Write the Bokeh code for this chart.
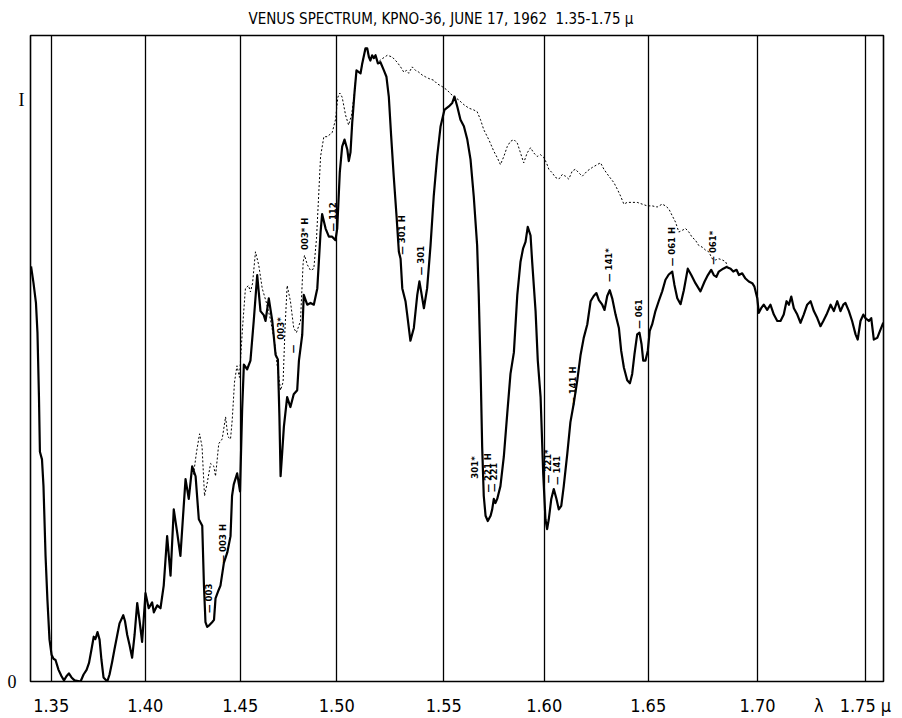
import numpy as np
from bokeh.plotting import figure
from bokeh.models import Range1d, FixedTicker
from bokeh.core.properties import value
from bokeh.embed import file_html
from bokeh.resources import INLINE

# Wavelength scale of the recorder chart (microns) and where each mark falls along the chart
SCALE_MARKS = [1.35, 1.40, 1.45, 1.50, 1.55, 1.60, 1.65, 1.70, 1.75]
SCALE_LABELS = ["1.35", "1.40", "1.45", "1.50", "1.55", "1.60", "1.65", "1.70",
                "λ\u2002\u20021.75\u00a0μ\u2009\u2002"]
SCALE_POS = [0.0, 94.1, 189.0, 285.6, 392.6, 493.0, 597.0, 706.3, 813.8]
CHART_WL_START = 1.339
CHART_WL_END = 1.7586

# Intensity scale marks
LEVEL_MARKS = [0.0, 1.0]
LEVEL_LABELS = ["0\u00a0\u2009", "I"]

TITLE = "VENUS SPECTRUM, KPNO-36, JUNE 17, 1962\u00a0\u00a01.35-1.75 μ"

# Venus spectrum (solid trace): wavelength (microns) and relative intensity
SOLID_WL = [
    1.3393, 1.3406, 1.3419, 1.3427, 1.3435, 1.3440, 1.3451, 1.3459, 1.3470, 1.3480,
    1.3491, 1.3502, 1.3512, 1.3523, 1.3539, 1.3555, 1.3568, 1.3581, 1.3594, 1.3608,
    1.3624, 1.3656, 1.3672, 1.3688, 1.3701, 1.3714, 1.3726, 1.3735, 1.3746, 1.3757,
    1.3767, 1.3778, 1.3798, 1.3810, 1.3824, 1.3836, 1.3851, 1.3863, 1.3883, 1.3892,
    1.3904, 1.3916, 1.3930, 1.3943, 1.3957, 1.3969, 1.3983, 1.3993, 1.4001, 1.4018,
    1.4036, 1.4045, 1.4063, 1.4080, 1.4097, 1.4115, 1.4133, 1.4150, 1.4168, 1.4185,
    1.4199, 1.4212, 1.4229, 1.4247, 1.4265, 1.4282, 1.4300, 1.4309, 1.4317, 1.4326,
    1.4338, 1.4352, 1.4362, 1.4370, 1.4386, 1.4396, 1.4414, 1.4432, 1.4449, 1.4457,
    1.4466, 1.4484, 1.4499, 1.4510, 1.4519, 1.4536, 1.4553, 1.4570, 1.4588, 1.4605,
    1.4622, 1.4631, 1.4648, 1.4666, 1.4683, 1.4695, 1.4703, 1.4709, 1.4716, 1.4726,
    1.4743, 1.4760, 1.4777, 1.4795, 1.4804, 1.4821, 1.4829, 1.4847, 1.4864, 1.4881,
    1.4899, 1.4916, 1.4924, 1.4942, 1.4959, 1.4976, 1.4993, 1.5002, 1.5014, 1.5025,
    1.5036, 1.5049, 1.5056, 1.5064, 1.5072, 1.5083, 1.5092, 1.5103, 1.5111, 1.5119,
    1.5134, 1.5142, 1.5150, 1.5157, 1.5165, 1.5173, 1.5181, 1.5192, 1.5204, 1.5220,
    1.5232, 1.5243, 1.5254, 1.5266, 1.5279, 1.5290, 1.5298, 1.5306, 1.5321, 1.5329,
    1.5344, 1.5360, 1.5376, 1.5386, 1.5394, 1.5407, 1.5422, 1.5438, 1.5453, 1.5469,
    1.5485, 1.5503, 1.5525, 1.5542, 1.5553, 1.5567, 1.5583, 1.5600, 1.5617, 1.5633,
    1.5649, 1.5666, 1.5674, 1.5683, 1.5691, 1.5699, 1.5708, 1.5719, 1.5733, 1.5741,
    1.5749, 1.5757, 1.5766, 1.5782, 1.5799, 1.5816, 1.5832, 1.5849, 1.5866, 1.5882,
    1.5895, 1.5907, 1.5918, 1.5932, 1.5940, 1.5957, 1.5968, 1.5982, 1.5995, 1.6006,
    1.6014, 1.6022, 1.6034, 1.6046, 1.6059, 1.6070, 1.6082, 1.6094, 1.6111, 1.6126,
    1.6142, 1.6159, 1.6175, 1.6190, 1.6207, 1.6223, 1.6238, 1.6251, 1.6263, 1.6279,
    1.6290, 1.6303, 1.6315, 1.6327, 1.6343, 1.6359, 1.6370, 1.6383, 1.6399, 1.6412,
    1.6423, 1.6434, 1.6447, 1.6458, 1.6468, 1.6476, 1.6487, 1.6498, 1.6507, 1.6518,
    1.6533, 1.6548, 1.6564, 1.6579, 1.6594, 1.6610, 1.6620, 1.6633, 1.6648, 1.6663,
    1.6681, 1.6697, 1.6716, 1.6739, 1.6758, 1.6773, 1.6788, 1.6800, 1.6812, 1.6823,
    1.6843, 1.6858, 1.6877, 1.6889, 1.6904, 1.6915, 1.6930, 1.6945, 1.6960, 1.6976,
    1.6986, 1.6999, 1.7006, 1.7017, 1.7029, 1.7045, 1.7060, 1.7076, 1.7092, 1.7107,
    1.7122, 1.7135, 1.7146, 1.7157, 1.7169, 1.7185, 1.7200, 1.7215, 1.7231, 1.7247,
    1.7262, 1.7278, 1.7293, 1.7306, 1.7321, 1.7340, 1.7355, 1.7371, 1.7386, 1.7399,
    1.7409, 1.7425, 1.7440, 1.7456, 1.7466, 1.7479, 1.7492, 1.7502, 1.7518, 1.7529,
    1.7541, 1.7557, 1.7572, 1.7585,
]
SOLID_I = [
    0.714, 0.685, 0.651, 0.600, 0.489, 0.395, 0.382, 0.336, 0.216, 0.140,
    0.072, 0.046, 0.039, 0.037, 0.020, 0.009, 0.002, 0.009, 0.014, 0.007,
    0.002, 0.000, 0.012, 0.020, 0.032, 0.055, 0.077, 0.073, 0.085, 0.072,
    0.037, 0.007, 0.000, 0.012, 0.034, 0.055, 0.080, 0.100, 0.114, 0.104,
    0.080, 0.063, 0.041, 0.080, 0.135, 0.106, 0.068, 0.114, 0.152, 0.126,
    0.136, 0.119, 0.131, 0.126, 0.165, 0.250, 0.182, 0.296, 0.256, 0.216,
    0.285, 0.348, 0.314, 0.370, 0.353, 0.279, 0.268, 0.165, 0.102, 0.094,
    0.097, 0.102, 0.106, 0.143, 0.157, 0.165, 0.204, 0.222, 0.250, 0.319,
    0.339, 0.358, 0.327, 0.467, 0.545, 0.537, 0.552, 0.620, 0.699, 0.637,
    0.630, 0.620, 0.659, 0.620, 0.562, 0.554, 0.455, 0.353, 0.387, 0.438,
    0.489, 0.472, 0.494, 0.501, 0.552, 0.596, 0.665, 0.648, 0.651, 0.648,
    0.676, 0.773, 0.804, 0.779, 0.765, 0.765, 0.759, 0.779, 0.876, 0.920,
    0.932, 0.915, 0.895, 0.910, 0.961, 1.014, 1.051, 1.048, 1.046, 1.063,
    1.089, 1.089, 1.074, 1.068, 1.077, 1.072, 1.077, 1.063, 1.065, 1.051,
    1.040, 1.006, 0.938, 0.869, 0.801, 0.739, 0.727, 0.676, 0.654, 0.631,
    0.586, 0.608, 0.665, 0.688, 0.671, 0.642, 0.676, 0.750, 0.835, 0.903,
    0.955, 0.983, 0.989, 0.995, 1.006, 0.989, 0.966, 0.955, 0.932, 0.898,
    0.835, 0.750, 0.665, 0.540, 0.404, 0.319, 0.285, 0.276, 0.285, 0.296,
    0.314, 0.307, 0.314, 0.336, 0.387, 0.461, 0.529, 0.566, 0.665, 0.722,
    0.745, 0.756, 0.782, 0.767, 0.722, 0.637, 0.552, 0.489, 0.358, 0.279,
    0.262, 0.279, 0.314, 0.331, 0.314, 0.296, 0.302, 0.336, 0.392, 0.446,
    0.478, 0.518, 0.562, 0.591, 0.614, 0.654, 0.663, 0.668, 0.656, 0.648,
    0.639, 0.663, 0.673, 0.659, 0.631, 0.608, 0.569, 0.540, 0.518, 0.513,
    0.529, 0.563, 0.597, 0.600, 0.580, 0.552, 0.552, 0.569, 0.603, 0.614,
    0.637, 0.654, 0.671, 0.691, 0.700, 0.705, 0.682, 0.659, 0.649, 0.673,
    0.710, 0.699, 0.685, 0.671, 0.688, 0.699, 0.708, 0.699, 0.696, 0.705,
    0.710, 0.713, 0.710, 0.705, 0.708, 0.699, 0.702, 0.693, 0.688, 0.685,
    0.679, 0.659, 0.634, 0.642, 0.648, 0.639, 0.648, 0.631, 0.620, 0.620,
    0.631, 0.654, 0.648, 0.662, 0.642, 0.631, 0.617, 0.631, 0.648, 0.654,
    0.637, 0.625, 0.611, 0.620, 0.631, 0.648, 0.637, 0.654, 0.637, 0.648,
    0.651, 0.637, 0.620, 0.597, 0.588, 0.620, 0.631, 0.625, 0.620, 0.625,
    0.588, 0.591, 0.605, 0.617,
]

# Comparison trace (dotted): wavelength (microns) and relative intensity
DOTTED_WL = [
    1.4254, 1.4270, 1.4286, 1.4299, 1.4312, 1.4326, 1.4344, 1.4361, 1.4370, 1.4387,
    1.4405, 1.4423, 1.4435, 1.4449, 1.4458, 1.4470, 1.4483, 1.4496, 1.4512, 1.4527,
    1.4543, 1.4553, 1.4564, 1.4579, 1.4596, 1.4614, 1.4636, 1.4657, 1.4678, 1.4693,
    1.4709, 1.4722, 1.4732, 1.4743, 1.4760, 1.4777, 1.4791, 1.4812, 1.4826, 1.4833,
    1.4847, 1.4864, 1.4881, 1.4895, 1.4907, 1.4916, 1.4933, 1.4950, 1.4976, 1.4993,
    1.5005, 1.5014, 1.5025, 1.5041, 1.5055, 1.5069, 1.5083, 1.5092, 1.5103, 1.5111,
    1.5119, 1.5134, 1.5142, 1.5150, 1.5157, 1.5165, 1.5173, 1.5181, 1.5192, 1.5212,
    1.5236, 1.5259, 1.5282, 1.5298, 1.5313, 1.5326, 1.5336, 1.5352, 1.5368, 1.5383,
    1.5399, 1.5414, 1.5430, 1.5453, 1.5469, 1.5493, 1.5517, 1.5533, 1.5550, 1.5575,
    1.5600, 1.5625, 1.5649, 1.5666, 1.5683, 1.5699, 1.5724, 1.5749, 1.5766, 1.5782,
    1.5799, 1.5816, 1.5832, 1.5849, 1.5866, 1.5882, 1.5898, 1.5915, 1.5932, 1.5948,
    1.5965, 1.5982, 1.5998, 1.6011, 1.6022, 1.6038, 1.6054, 1.6070, 1.6087, 1.6102,
    1.6118, 1.6135, 1.6150, 1.6166, 1.6183, 1.6207, 1.6231, 1.6255, 1.6271, 1.6287,
    1.6311, 1.6335, 1.6351, 1.6367, 1.6383, 1.6399, 1.6423, 1.6447, 1.6471, 1.6495,
    1.6518, 1.6541, 1.6564, 1.6579, 1.6594, 1.6610, 1.6625, 1.6640, 1.6656, 1.6671,
    1.6686, 1.6701, 1.6716, 1.6731, 1.6747, 1.6762, 1.6777, 1.6793, 1.6808, 1.6823,
    1.6839, 1.6854, 1.6863,
]
DOTTED_I = [
    0.356, 0.395, 0.426, 0.404, 0.319, 0.341, 0.375, 0.370, 0.353, 0.409,
    0.417, 0.455, 0.421, 0.417, 0.450, 0.515, 0.543, 0.523, 0.608, 0.676,
    0.681, 0.670, 0.685, 0.739, 0.716, 0.676, 0.651, 0.622, 0.583, 0.540,
    0.501, 0.515, 0.608, 0.681, 0.654, 0.608, 0.600, 0.620, 0.722, 0.733,
    0.717, 0.707, 0.710, 0.762, 0.842, 0.903, 0.937, 0.937, 0.944, 0.966,
    1.005, 1.012, 1.005, 0.974, 0.957, 0.974, 1.014, 1.051, 1.048, 1.046,
    1.063, 1.089, 1.089, 1.074, 1.068, 1.077, 1.072, 1.077, 1.065, 1.071,
    1.077, 1.074, 1.065, 1.057, 1.048, 1.051, 1.046, 1.057, 1.051, 1.048,
    1.043, 1.040, 1.037, 1.034, 1.028, 1.023, 1.017, 1.011, 1.006, 1.000,
    0.992, 0.986, 0.983, 0.980, 0.966, 0.949, 0.932, 0.912, 0.901, 0.889,
    0.903, 0.920, 0.929, 0.932, 0.926, 0.909, 0.892, 0.909, 0.918, 0.909,
    0.903, 0.906, 0.901, 0.892, 0.881, 0.875, 0.867, 0.864, 0.872, 0.869,
    0.864, 0.878, 0.881, 0.875, 0.869, 0.878, 0.884, 0.889, 0.892, 0.881,
    0.869, 0.858, 0.847, 0.835, 0.821, 0.824, 0.824, 0.824, 0.821, 0.818,
    0.818, 0.816, 0.821, 0.818, 0.813, 0.801, 0.790, 0.773, 0.776, 0.779,
    0.773, 0.764, 0.759, 0.750, 0.747, 0.742, 0.739, 0.727, 0.725, 0.727,
    0.725, 0.722, 0.714,
]

# Band identifications written beside the trace: text, wavelength, height on the chart
BAND_TEXT = ["— 003", "— 003 H", "003*", "—", "003* H", "— 112", "— 301 H", "— 301",
             "301*", "— 221 H", "— 221", "— 221*", "— 141", "— 141 H", "— 141*",
             "— 061", "— 061 H", "— 061*"]
BAND_WL = [1.4335, 1.4405, 1.4709, 1.4772, 1.4833, 1.4976, 1.5301, 1.5391,
           1.5653, 1.5718, 1.5749, 1.6016, 1.6059, 1.6136, 1.6311,
           1.6455, 1.6607, 1.6796]
BAND_LEVEL = [0.143, 0.237, 0.607, 0.572, 0.770, 0.799, 0.768, 0.724,
              0.368, 0.359, 0.351, 0.370, 0.363, 0.508, 0.716,
              0.632, 0.748, 0.746]


def chart_pos(wl):
    """Map wavelength to position along the chart using the scale marks."""
    wl = np.atleast_1d(np.asarray(wl, dtype=float))
    pos = np.interp(wl, SCALE_MARKS, SCALE_POS)
    lo_slope = (SCALE_POS[1] - SCALE_POS[0]) / (SCALE_MARKS[1] - SCALE_MARKS[0])
    hi_slope = (SCALE_POS[-1] - SCALE_POS[-2]) / (SCALE_MARKS[-1] - SCALE_MARKS[-2])
    lo = wl < SCALE_MARKS[0]
    hi = wl > SCALE_MARKS[-1]
    pos[lo] = SCALE_POS[0] + (wl[lo] - SCALE_MARKS[0]) * lo_slope
    pos[hi] = SCALE_POS[-1] + (wl[hi] - SCALE_MARKS[-1]) * hi_slope
    return pos


NARROW = "'Liberation Sans Narrow', 'DejaVu Sans Condensed', 'Roboto Condensed', Roboto, sans-serif"
SERIF = "'Liberation Serif', 'DejaVu Serif', serif"

x0 = float(chart_pos(CHART_WL_START)[0])
x1 = float(chart_pos(CHART_WL_END)[0])

p = figure(width=902, height=718, output_backend="svg", toolbar_location=None,
           x_range=Range1d(x0, x1), y_range=Range1d(0.0, 1.111),
           x_axis_location="below", y_axis_location="left",
           min_border_left=30, min_border_right=19, min_border_top=35, min_border_bottom=31)
p.background_fill_color = "white"
p.border_fill_color = "white"
p.outline_line_color = "black"
p.outline_line_width = 1.6

p.title.text = TITLE
p.title.align = "left"
p.title.offset = 218
p.title.text_font = NARROW
p.title.text_font_size = "15px"
p.title.text_font_style = "normal"
p.title.text_color = "black"
p.title.standoff = 15

ticks = [float(v) for v in chart_pos(SCALE_MARKS)]
xa = p.xaxis[0]
xa.ticker = FixedTicker(ticks=ticks)
xa.major_label_overrides = {t: s for t, s in zip(ticks, SCALE_LABELS)}
xa.axis_line_color = None
xa.major_tick_line_color = None
xa.minor_tick_line_color = None
xa.major_label_standoff = 7
xa.major_label_text_font = NARROW
xa.major_label_text_font_size = "18px"
xa.major_label_text_color = "black"

ya = p.yaxis[0]
ya.ticker = FixedTicker(ticks=LEVEL_MARKS)
ya.major_label_overrides = {t: s for t, s in zip(LEVEL_MARKS, LEVEL_LABELS)}
ya.axis_line_color = None
ya.major_tick_line_color = None
ya.minor_tick_line_color = None
ya.major_tick_out = 0
ya.minor_tick_out = 0
ya.major_label_standoff = 6
ya.major_label_text_font = SERIF
ya.major_label_text_font_size = "18px"
ya.major_label_text_color = "black"

p.xgrid.ticker = FixedTicker(ticks=ticks)
p.xgrid.grid_line_color = "black"
p.xgrid.grid_line_width = 1.3
p.xgrid.grid_line_alpha = 1.0
p.ygrid.grid_line_color = None

# comparison trace, then the Venus trace on top
p.line(chart_pos(DOTTED_WL), DOTTED_I, line_color="black", line_width=1.0,
       line_dash="2 2")
p.line(chart_pos(SOLID_WL), SOLID_I, line_color="black", line_width=2.2,
       line_join="round")

p.text(x=chart_pos(BAND_WL), y=BAND_LEVEL, text=BAND_TEXT, angle=np.pi / 2,
       text_align="center", text_baseline="middle", text_color="black",
       text_font=value(NARROW), text_font_size=value("9.5px"), text_font_style="bold")

open("out.html", "w").write(file_html(p, INLINE))
